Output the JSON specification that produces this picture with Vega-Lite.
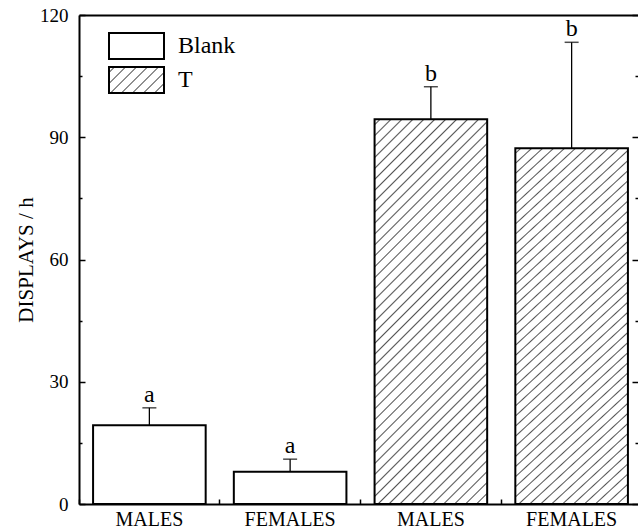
{
  "$schema": "https://vega.github.io/schema/vega-lite/v6.json",
  "width": 563,
  "height": 489,
  "autosize": {"type": "none"},
  "padding": {"left": 79, "top": 15, "right": 0, "bottom": 28},
  "background": "white",
  "config": {
    "view": {"stroke": null},
    "font": "Liberation Serif",
    "axis": {"labelFont": "Liberation Serif", "titleFont": "Liberation Serif", "labelColor": "black", "titleColor": "black", "domainColor": "black", "tickColor": "black", "grid": false},
    "legend": {"labelFont": "Liberation Serif", "labelColor": "black"}
  },
  "data": {
    "values": [
      {"grp": "MALES|Blank", "treat": "Blank", "mean": 19.3, "upper": 23.6, "sig": "a"},
      {"grp": "FEMALES|Blank", "treat": "Blank", "mean": 7.9, "upper": 11.0, "sig": "a"},
      {"grp": "MALES|T", "treat": "T", "mean": 94.4, "upper": 102.4, "sig": "b"},
      {"grp": "FEMALES|T", "treat": "T", "mean": 87.3, "upper": 113.3, "sig": "b"}
    ]
  },
  "resolve": {"axis": {"x": "independent", "y": "independent"}},
  "layer": [
    {
      "mark": {"type": "bar", "strokeWidth": 2, "width": {"band": 0.8}},
      "encoding": {
        "x": {"field": "grp", "type": "nominal", "sort": null,
              "scale": {"paddingInner": 0, "paddingOuter": 0},
              "axis": {"orient": "bottom", "title": null, "labelAngle": 0, "ticks": false, "domain": true, "domainWidth": 2, "labelFontSize": 20, "labelPadding": 5, "labelExpr": "split(datum.value, '|')[0]"}},
        "y": {"field": "mean", "type": "quantitative", "scale": {"domain": [0, 120], "nice": false},
              "axis": {"orient": "left", "values": [0, 30, 60, 90, 120], "tickSize": -6, "tickWidth": 1.5, "domainWidth": 2, "labelFontSize": 19, "labelPadding": 17, "title": "DISPLAYS / h", "titleFontSize": 21, "titleFontWeight": "normal", "titlePadding": 3}},
        "fill": {
          "condition": {"test": "datum.treat === 'T'", "value": {
            "gradient": "linear", "x1": 0, "y1": 0, "x2": 0.348, "y2": 1.19,
            "stops": [
              {"offset": 0, "color": "#ffffff"},
              {"offset": 0.008, "color": "#ffffff"}, {"offset": 0.011, "color": "#555555"}, {"offset": 0.014, "color": "#ffffff"},
              {"offset": 0.030, "color": "#ffffff"}, {"offset": 0.033, "color": "#555555"}, {"offset": 0.036, "color": "#ffffff"},
              {"offset": 0.052, "color": "#ffffff"}, {"offset": 0.055, "color": "#555555"}, {"offset": 0.058, "color": "#ffffff"},
              {"offset": 0.074, "color": "#ffffff"}, {"offset": 0.077, "color": "#555555"}, {"offset": 0.080, "color": "#ffffff"},
              {"offset": 0.096, "color": "#ffffff"}, {"offset": 0.099, "color": "#555555"}, {"offset": 0.102, "color": "#ffffff"},
              {"offset": 0.118, "color": "#ffffff"}, {"offset": 0.121, "color": "#555555"}, {"offset": 0.124, "color": "#ffffff"},
              {"offset": 0.140, "color": "#ffffff"}, {"offset": 0.143, "color": "#555555"}, {"offset": 0.146, "color": "#ffffff"},
              {"offset": 0.162, "color": "#ffffff"}, {"offset": 0.165, "color": "#555555"}, {"offset": 0.168, "color": "#ffffff"},
              {"offset": 0.184, "color": "#ffffff"}, {"offset": 0.187, "color": "#555555"}, {"offset": 0.190, "color": "#ffffff"},
              {"offset": 0.206, "color": "#ffffff"}, {"offset": 0.209, "color": "#555555"}, {"offset": 0.212, "color": "#ffffff"},
              {"offset": 0.228, "color": "#ffffff"}, {"offset": 0.231, "color": "#555555"}, {"offset": 0.234, "color": "#ffffff"},
              {"offset": 0.250, "color": "#ffffff"}, {"offset": 0.253, "color": "#555555"}, {"offset": 0.256, "color": "#ffffff"},
              {"offset": 0.272, "color": "#ffffff"}, {"offset": 0.275, "color": "#555555"}, {"offset": 0.278, "color": "#ffffff"},
              {"offset": 0.294, "color": "#ffffff"}, {"offset": 0.297, "color": "#555555"}, {"offset": 0.300, "color": "#ffffff"},
              {"offset": 0.316, "color": "#ffffff"}, {"offset": 0.319, "color": "#555555"}, {"offset": 0.322, "color": "#ffffff"},
              {"offset": 0.338, "color": "#ffffff"}, {"offset": 0.341, "color": "#555555"}, {"offset": 0.344, "color": "#ffffff"},
              {"offset": 0.360, "color": "#ffffff"}, {"offset": 0.363, "color": "#555555"}, {"offset": 0.366, "color": "#ffffff"},
              {"offset": 0.382, "color": "#ffffff"}, {"offset": 0.385, "color": "#555555"}, {"offset": 0.388, "color": "#ffffff"},
              {"offset": 0.404, "color": "#ffffff"}, {"offset": 0.407, "color": "#555555"}, {"offset": 0.410, "color": "#ffffff"},
              {"offset": 0.426, "color": "#ffffff"}, {"offset": 0.429, "color": "#555555"}, {"offset": 0.432, "color": "#ffffff"},
              {"offset": 0.448, "color": "#ffffff"}, {"offset": 0.451, "color": "#555555"}, {"offset": 0.454, "color": "#ffffff"},
              {"offset": 0.470, "color": "#ffffff"}, {"offset": 0.473, "color": "#555555"}, {"offset": 0.476, "color": "#ffffff"},
              {"offset": 0.492, "color": "#ffffff"}, {"offset": 0.495, "color": "#555555"}, {"offset": 0.498, "color": "#ffffff"},
              {"offset": 0.514, "color": "#ffffff"}, {"offset": 0.517, "color": "#555555"}, {"offset": 0.520, "color": "#ffffff"},
              {"offset": 0.536, "color": "#ffffff"}, {"offset": 0.539, "color": "#555555"}, {"offset": 0.542, "color": "#ffffff"},
              {"offset": 0.558, "color": "#ffffff"}, {"offset": 0.561, "color": "#555555"}, {"offset": 0.564, "color": "#ffffff"},
              {"offset": 0.580, "color": "#ffffff"}, {"offset": 0.583, "color": "#555555"}, {"offset": 0.586, "color": "#ffffff"},
              {"offset": 0.602, "color": "#ffffff"}, {"offset": 0.605, "color": "#555555"}, {"offset": 0.608, "color": "#ffffff"},
              {"offset": 0.624, "color": "#ffffff"}, {"offset": 0.627, "color": "#555555"}, {"offset": 0.630, "color": "#ffffff"},
              {"offset": 0.646, "color": "#ffffff"}, {"offset": 0.649, "color": "#555555"}, {"offset": 0.652, "color": "#ffffff"},
              {"offset": 0.668, "color": "#ffffff"}, {"offset": 0.671, "color": "#555555"}, {"offset": 0.674, "color": "#ffffff"},
              {"offset": 0.690, "color": "#ffffff"}, {"offset": 0.693, "color": "#555555"}, {"offset": 0.696, "color": "#ffffff"},
              {"offset": 0.712, "color": "#ffffff"}, {"offset": 0.715, "color": "#555555"}, {"offset": 0.718, "color": "#ffffff"},
              {"offset": 0.734, "color": "#ffffff"}, {"offset": 0.737, "color": "#555555"}, {"offset": 0.740, "color": "#ffffff"},
              {"offset": 0.756, "color": "#ffffff"}, {"offset": 0.759, "color": "#555555"}, {"offset": 0.762, "color": "#ffffff"},
              {"offset": 0.778, "color": "#ffffff"}, {"offset": 0.781, "color": "#555555"}, {"offset": 0.784, "color": "#ffffff"},
              {"offset": 0.800, "color": "#ffffff"}, {"offset": 0.803, "color": "#555555"}, {"offset": 0.806, "color": "#ffffff"},
              {"offset": 0.822, "color": "#ffffff"}, {"offset": 0.825, "color": "#555555"}, {"offset": 0.828, "color": "#ffffff"},
              {"offset": 0.844, "color": "#ffffff"}, {"offset": 0.847, "color": "#555555"}, {"offset": 0.850, "color": "#ffffff"},
              {"offset": 0.866, "color": "#ffffff"}, {"offset": 0.869, "color": "#555555"}, {"offset": 0.872, "color": "#ffffff"},
              {"offset": 0.888, "color": "#ffffff"}, {"offset": 0.891, "color": "#555555"}, {"offset": 0.894, "color": "#ffffff"},
              {"offset": 0.910, "color": "#ffffff"}, {"offset": 0.913, "color": "#555555"}, {"offset": 0.916, "color": "#ffffff"},
              {"offset": 0.932, "color": "#ffffff"}, {"offset": 0.935, "color": "#555555"}, {"offset": 0.938, "color": "#ffffff"},
              {"offset": 0.954, "color": "#ffffff"}, {"offset": 0.957, "color": "#555555"}, {"offset": 0.960, "color": "#ffffff"},
              {"offset": 0.976, "color": "#ffffff"}, {"offset": 0.979, "color": "#555555"}, {"offset": 0.982, "color": "#ffffff"},
              {"offset": 1, "color": "#ffffff"}
            ]}},
          "value": "white"
        },
        "stroke": {"field": "treat", "type": "nominal", "scale": {"domain": ["Blank", "T"], "range": ["black", "black"]},
          "legend": {
            "orient": "none", "legendX": 45.5, "legendY": 19, "title": null, "padding": 0,
            "symbolType": "M-2.75,-1.3H2.75V1.3H-2.75Z", "symbolSize": 400, "symbolStrokeWidth": 2, "symbolStrokeColor": "black",
            "labelFontSize": 24, "labelOffset": 29.5, "rowPadding": 0,
            "encoding": {"symbols": {
              "fill": {
                "condition": {"test": "datum.value === 'T'", "value": {
                  "gradient": "linear", "x1": 0, "y1": 0, "x2": 1.2037, "y2": 0.569,
                  "stops": [
                    {"offset": 0, "color": "#ffffff"},
                    {"offset": 0.050, "color": "#ffffff"}, {"offset": 0.068, "color": "#555555"}, {"offset": 0.086, "color": "#ffffff"},
                    {"offset": 0.186, "color": "#ffffff"}, {"offset": 0.204, "color": "#555555"}, {"offset": 0.222, "color": "#ffffff"},
                    {"offset": 0.322, "color": "#ffffff"}, {"offset": 0.340, "color": "#555555"}, {"offset": 0.358, "color": "#ffffff"},
                    {"offset": 0.457, "color": "#ffffff"}, {"offset": 0.475, "color": "#555555"}, {"offset": 0.493, "color": "#ffffff"},
                    {"offset": 0.593, "color": "#ffffff"}, {"offset": 0.611, "color": "#555555"}, {"offset": 0.629, "color": "#ffffff"},
                    {"offset": 0.729, "color": "#ffffff"}, {"offset": 0.747, "color": "#555555"}, {"offset": 0.765, "color": "#ffffff"},
                    {"offset": 0.865, "color": "#ffffff"}, {"offset": 0.883, "color": "#555555"}, {"offset": 0.901, "color": "#ffffff"},
                    {"offset": 1, "color": "#ffffff"}
                  ]}},
                "value": "white"
              },
              "fillOpacity": {"value": 1},
              "opacity": {"value": 1}
            }}
          }
        }
      }
    },
    {
      "mark": {"type": "rule", "strokeWidth": 1.3, "color": "black"},
      "encoding": {
        "x": {"field": "grp", "type": "nominal", "sort": null,
              "axis": {"orient": "bottom", "title": null, "labels": false, "domain": false, "bandPosition": 0, "tickSize": -5, "tickWidth": 1.5}},
        "y": {"field": "mean", "type": "quantitative",
              "axis": {"orient": "left", "values": [15, 45, 75, 105], "tickSize": -3, "tickWidth": 1.5, "labels": false, "domain": false, "title": null}},
        "y2": {"field": "upper"}
      }
    },
    {
      "mark": {"type": "tick", "orient": "horizontal", "size": 14, "thickness": 1.5, "color": "black"},
      "encoding": {
        "x": {"field": "grp", "type": "nominal", "sort": null,
              "axis": {"orient": "top", "title": null, "labels": false, "ticks": false, "domain": true, "domainWidth": 2}},
        "y": {"field": "upper", "type": "quantitative",
              "axis": {"orient": "right", "values": [0, 30, 60, 90, 120], "tickSize": -10, "tickWidth": 1.5, "labels": false, "domain": true, "domainWidth": 2, "title": null}}
      }
    },
    {
      "mark": {"type": "text", "fontSize": 24, "baseline": "alphabetic", "dy": -6, "color": "black", "font": "Liberation Serif"},
      "encoding": {
        "x": {"field": "grp", "type": "nominal", "sort": null, "axis": null},
        "y": {"field": "upper", "type": "quantitative",
              "axis": {"orient": "right", "values": [15, 45, 75, 105], "tickSize": -7, "tickWidth": 1.5, "labels": false, "domain": false, "title": null}},
        "text": {"field": "sig"}
      }
    }
  ]
}
